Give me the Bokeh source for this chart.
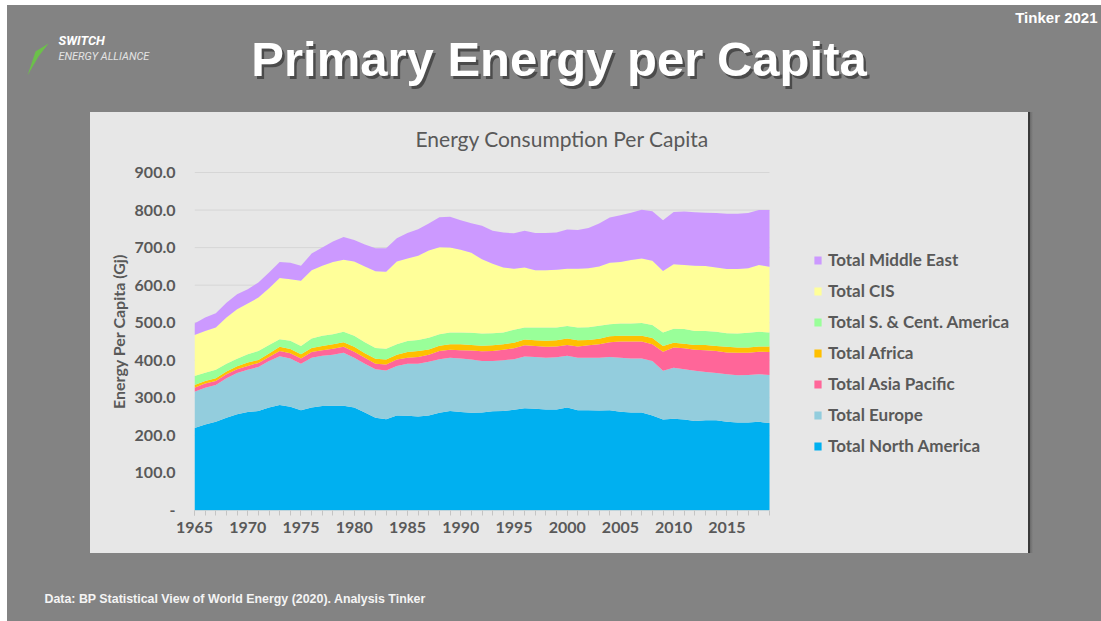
from bokeh.plotting import figure
from bokeh.models import (Range1d, FixedTicker, Label, Legend, LegendItem,
                          ColumnDataSource)
from bokeh.layouts import column, row
from bokeh.embed import file_html
from bokeh.resources import INLINE

# ---------------- data (GJ per capita) ----------------
years = list(range(1965, 2020))

north_america = [220, 229, 236, 247, 256, 262, 265, 274, 281, 276,
                 267, 274, 278, 279, 279, 274, 261, 247, 243, 253,
                 252, 250, 253, 260, 265, 262, 260, 261, 264, 265,
                 268, 272, 271, 269, 269, 274, 267, 267, 266, 267,
                 263, 261, 261, 253, 242, 244, 242, 238, 240, 240,
                 236, 234, 234, 236, 233]
europe = [96, 98, 98, 105, 110, 113, 117, 124, 130, 129,
          124, 133, 134, 136, 141, 133, 130, 129, 130, 132,
          139, 141, 143, 143, 142, 143, 142, 137, 134, 135,
          135, 138, 138, 138, 139, 138, 140, 140, 141, 142,
          144, 144, 144, 145, 130, 136, 134, 134, 129, 126,
          127, 126, 127, 127, 128]
asia_pacific = [11, 11, 11, 11, 10, 10, 11, 11, 14, 14,
                14, 15, 15, 16, 16, 16, 16, 15, 16, 17,
                16, 18, 19, 22, 21, 22, 24, 26, 27, 28,
                29, 30, 29, 29, 29, 29, 30, 33, 36, 39,
                43, 45, 45, 45, 51, 54, 56, 56, 58, 59,
                58, 60, 59, 60, 61]
africa = [7, 7, 7, 7, 8, 9, 8, 9, 11, 11,
          11, 11, 11, 12, 12, 13, 12, 13, 13, 13,
          15, 16, 14, 14, 15, 16, 15, 15, 15, 15,
          15, 15, 15, 16, 16, 17, 16, 14, 14, 16,
          15, 15, 15, 16, 15, 13, 12, 13, 14, 13,
          15, 14, 14, 14, 15]
sc_america = [24, 22, 23, 21, 20, 22, 24, 23, 20, 22,
              22, 25, 27, 26, 28, 29, 29, 29, 29, 28,
              29, 29, 31, 30, 31, 31, 32, 32, 32, 31,
              34, 32, 34, 35, 34, 33, 34, 34, 35, 32,
              33, 33, 34, 35, 36, 37, 39, 37, 37, 38,
              36, 37, 39, 39, 37]
cis = [109, 111, 112, 123, 132, 135, 142, 151, 163, 164,
       174, 182, 187, 193, 192, 198, 202, 204, 205, 220,
       220, 224, 232, 232, 226, 220, 213, 198, 185, 173,
       163, 160, 153, 153, 154, 153, 157, 157, 158, 164,
       164, 169, 172, 171, 164, 172, 171, 174, 173, 171,
       171, 172, 172, 178, 175]
middle_east = [31, 36, 38, 39, 40, 38, 40, 42, 43, 44,
               40, 44, 48, 54, 60, 57, 58, 61, 62, 62,
               68, 71, 72, 80, 82, 79, 79, 89, 88, 93,
               94, 98, 99, 99, 99, 104, 103, 107, 114, 120,
               124, 126, 130, 132, 135, 139, 142, 142, 142, 145,
               147, 147, 147, 146, 151]

series_keys = ["na", "eu", "ap", "af", "sca", "cis", "me"]
series_names = ["Total North America", "Total Europe", "Total Asia Pacific",
                "Total Africa", "Total S. & Cent. America", "Total CIS",
                "Total Middle East"]
series_colors = ["#00B0F0", "#93CDDD", "#FF6699", "#FFC000",
                 "#99FF99", "#FFFF99", "#CC99FF"]

x_tick_years = [1965, 1970, 1975, 1980, 1985, 1990, 1995, 2000, 2005, 2010, 2015]
y_ticks = [0, 100, 200, 300, 400, 500, 600, 700, 800, 900]
y_tick_labels = ["-", "100.0", "200.0", "300.0", "400.0", "500.0",
                 "600.0", "700.0", "800.0", "900.0"]

# ---------------- styling constants ----------------
BG = "#838383"
PANEL = "#e7e7e7"
TXT = "#595959"
CHART_FONT = "Lato"
SLIDE_FONT = "Liberation Sans"

# chart panel geometry (pixels)
PANEL_W, PANEL_H = 938, 441
PLOT_LEFT, PLOT_BOTTOM, PLOT_TOP = 104, 43, 40   # frame offsets inside the panel
DATA_W, DATA_H = 575, 338                        # pixel extent of 1965..2019 and 0..900
X_FIRST, X_LAST = years[0], years[-1]
Y_TOP = y_ticks[-1]
px_per_year = DATA_W / (X_LAST - X_FIRST)
px_per_unit = DATA_H / Y_TOP
x_end = X_LAST + (PANEL_W - PLOT_LEFT - DATA_W) / px_per_year
y_end = Y_TOP + (PANEL_H - PLOT_BOTTOM - PLOT_TOP - DATA_H) / px_per_unit


def deco(w, h, x0, x1, y0, y1, css_bg=BG):
    f = figure(width=w, height=h, x_range=Range1d(x0, x1), y_range=Range1d(y1, y0),
               output_backend="svg", toolbar_location=None, min_border=0,
               x_axis_type=None, y_axis_type=None, styles={"background": css_bg})
    f.grid.visible = False
    f.outline_line_color = None
    f.background_fill_alpha = 0
    f.border_fill_alpha = 0
    return f


# ---------------- header (page coordinates) ----------------
hdr = deco(1094, 107, 7, 1101, 5, 112)
hdr.patch(x=[27, 35, 48, 38], y=[75, 51, 43, 56], color="#6CC04A", line_color=None)
hdr.add_layout(Label(x=58, y=40, text="SWITCH", text_font="Roboto",
                     text_font_style="bold italic", text_font_size="12.8px",
                     text_color="white", text_baseline="middle"))
hdr.add_layout(Label(x=58, y=56, text="ENERGY ALLIANCE", text_font="Roboto",
                     text_font_style="italic", text_font_size="10.9px",
                     text_color="#e4e4e4", text_baseline="middle"))
hdr.add_layout(Label(x=561, y=61, text="Primary Energy per Capita", text_font=SLIDE_FONT,
                     text_font_style="bold", text_font_size="49px", text_color="#262626",
                     text_alpha=0.6, text_align="center", text_baseline="middle"))
hdr.add_layout(Label(x=558.5, y=58.5, text="Primary Energy per Capita", text_font=SLIDE_FONT,
                     text_font_style="bold", text_font_size="49px", text_color="white",
                     text_align="center", text_baseline="middle"))
hdr.add_layout(Label(x=1097, y=17, text="Tinker 2021", text_font=SLIDE_FONT,
                     text_font_style="bold", text_font_size="15px", text_color="white",
                     text_align="right", text_baseline="middle"))

# ---------------- chart ----------------
data = dict(year=years, na=north_america, eu=europe, ap=asia_pacific, af=africa,
            sca=sc_america, cis=cis, me=middle_east)
src = ColumnDataSource(data)

p = figure(width=PANEL_W, height=PANEL_H,
           x_range=Range1d(X_FIRST, x_end), y_range=Range1d(0, y_end),
           output_backend="svg", toolbar_location=None,
           min_border_left=PLOT_LEFT, min_border_right=0, min_border_top=PLOT_TOP,
           min_border_bottom=PLOT_BOTTOM, styles={"background-color": PANEL},
           title="Energy Consumption Per Capita")
p.background_fill_color = PANEL
p.border_fill_color = PANEL
p.outline_line_color = None
p.grid.visible = False

p.title.align = "left"
p.title.offset = 221
p.title.standoff = 4
p.title.text_font = CHART_FONT
p.title.text_font_style = "normal"
p.title.text_font_size = "21px"
p.title.text_color = TXT

# horizontal gridlines and axis baseline limited to the data span
grid_y = y_ticks[1:]
p.segment(x0=[X_FIRST] * len(grid_y), x1=[X_LAST] * len(grid_y), y0=grid_y, y1=grid_y,
          line_color="#d6d6d6", line_width=1, level="underlay")

renderers = p.varea_stack(stackers=series_keys, x="year", color=series_colors, source=src)

p.segment(x0=[X_FIRST], x1=[X_LAST], y0=[0], y1=[0], line_color="#cfcfcf", line_width=1)

p.xaxis.ticker = FixedTicker(ticks=x_tick_years, minor_ticks=years)
p.xaxis.major_label_text_font = CHART_FONT
p.xaxis.major_label_text_font_style = "bold"
p.xaxis.major_label_text_font_size = "16px"
p.xaxis.major_label_text_color = TXT
p.xaxis.axis_line_color = None
p.xaxis.major_tick_line_color = "#c4c4c4"
p.xaxis.major_tick_out = 5
p.xaxis.major_tick_in = 0
p.xaxis.minor_tick_line_color = "#c4c4c4"
p.xaxis.minor_tick_out = 5
p.xaxis.minor_tick_in = 0
p.xaxis.major_label_standoff = 6

p.yaxis.ticker = FixedTicker(ticks=y_ticks)
p.yaxis.major_label_overrides = {t: lab for t, lab in zip(y_ticks, y_tick_labels)}
p.yaxis.major_label_text_font = CHART_FONT
p.yaxis.major_label_text_font_style = "bold"
p.yaxis.major_label_text_font_size = "16px"
p.yaxis.major_label_text_color = TXT
p.yaxis.axis_line_color = None
p.yaxis.major_tick_line_color = None
p.yaxis.minor_tick_line_color = None
p.yaxis.major_label_standoff = 13
p.yaxis.axis_label = "Energy Per Capita (Gj)"
p.yaxis.axis_label_text_font = CHART_FONT
p.yaxis.axis_label_text_font_style = "bold"
p.yaxis.axis_label_text_font_size = "16px"
p.yaxis.axis_label_text_color = TXT
p.yaxis.axis_label_standoff = 4

items = [LegendItem(label=series_names[i], renderers=[renderers[i]])
         for i in reversed(range(len(series_names)))]
legend = Legend(items=items, location=(619, 54), orientation="vertical",
                border_line_color=None, background_fill_alpha=0,
                padding=0, margin=0, spacing=10, label_height=21,
                glyph_height=10, glyph_width=9, label_standoff=6,
                label_text_font=CHART_FONT, label_text_font_style="bold",
                label_text_font_size="17px", label_text_color=TXT)
p.add_layout(legend, "center")

# ---------------- side / footer (page coordinates) ----------------
left = deco(83, PANEL_H, 7, 90, 112, 553)
right = deco(73, PANEL_H, 1028, 1101, 112, 553,
             css_bg=f"linear-gradient(to right, #3a3a3a 0px, #3a3a3a 2px, #6a6a6a 2px, {BG} 5px)")

ftr = deco(1094, 68, 7, 1101, 553, 621)
ftr.add_layout(Label(x=44, y=598, text="Data: BP Statistical View of World Energy (2020). Analysis Tinker",
                     text_font=SLIDE_FONT, text_font_style="bold", text_font_size="12.4px",
                     text_color="#f4f4f4", text_baseline="middle"))

layout = column(hdr, row(left, p, right), ftr, margin=(5, 0, 0, 7),
                styles={"background-color": BG})
open("out.html", "w").write(file_html(layout, INLINE))
